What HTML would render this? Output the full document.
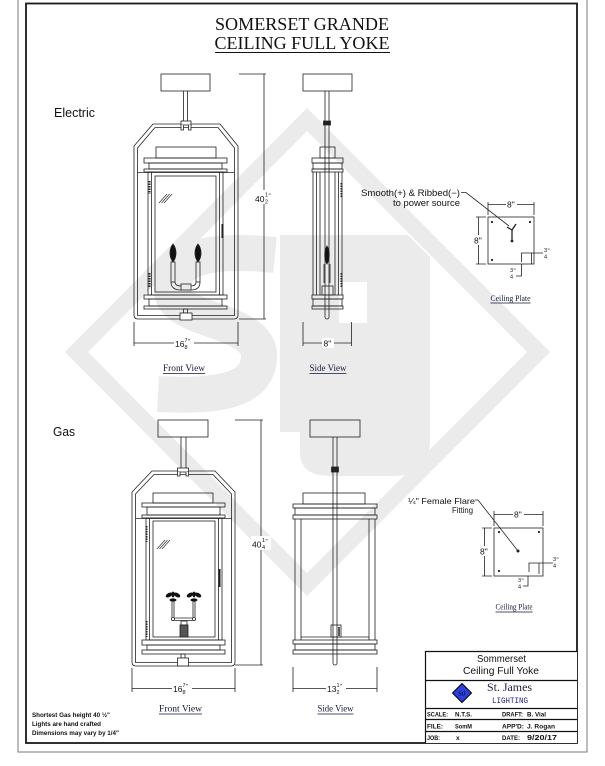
<!DOCTYPE html>
<html><head><meta charset="utf-8">
<style>
html,body{margin:0;padding:0;background:#fff;width:605px;height:766px;overflow:hidden}
svg{display:block}
</style></head><body>
<svg xmlns="http://www.w3.org/2000/svg" width="605" height="766" viewBox="0 0 605 766" font-family="'Liberation Sans', Arial, sans-serif">
<rect width="605" height="766" fill="#fff"/>

<!-- watermark -->
<g fill="#ebebeb" stroke="none">
 <path fill-rule="evenodd" d="M65,352 L307,108 L550,352 L307,596 Z M88,352 L307,131 L527,352 L307,573 Z"/>
 <path fill-rule="evenodd" d="M280,235 H408 L430,257 V440 Q430,476 392,476 H330 Q300,476 300,452 V432 H280 Z M339,282 H367 V323 H339 Z"/>
</g>
<path d="M275,255 C215,249 172,255 172,290 C172,322 259,318 259,356 C259,392 215,397 158,394" fill="none" stroke="#ebebeb" stroke-width="36"/>

<!-- page frame -->
<path d="M18,0 V752 H587 V0" fill="none" stroke="#7a7a7a" stroke-width="1"/>
<rect x="26" y="3.5" width="551" height="739.5" fill="none" stroke="#1a1a1a" stroke-width="1.8"/>

<!-- title -->
<g font-family="'Liberation Serif','Times New Roman',serif" fill="#111" font-size="18" text-anchor="middle">
 <text x="302" y="30" textLength="174" lengthAdjust="spacingAndGlyphs">SOMERSET GRANDE</text>
 <text x="302" y="49" textLength="175" lengthAdjust="spacingAndGlyphs">CEILING FULL YOKE</text>
</g>
<line x1="215" y1="52.5" x2="390" y2="52.5" stroke="#111" stroke-width="1"/>

<text x="54" y="117" font-size="13" fill="#111" textLength="41" lengthAdjust="spacingAndGlyphs">Electric</text>
<text x="53" y="436" font-size="13" fill="#111" textLength="22" lengthAdjust="spacingAndGlyphs">Gas</text>

<g fill="none" stroke="#222" stroke-width="0.8">
 <!-- ============ ELECTRIC FRONT ============ -->
 <rect x="161" y="74" width="49" height="17"/>
 <path d="M183.5,91 V122 M187.5,91 V122"/>
 <path d="M153,124 H220 L238,146 V315 Q238,319 234,319 H138 Q134,319 134,315 V146 Z"/>
 <path d="M155,127.5 H218 L234.5,148 V315.5 H137.5 V148 Z"/>
 <rect x="181" y="121" width="10" height="4" fill="#fff"/>
 <path d="M181,125 v5 h2.5 v-5 M188.5,125 v5 h2.5 v-5" fill="#fff"/>
 <rect x="156" y="147" width="60" height="11"/>
 <rect x="144" y="158" width="83" height="5"/>
 <rect x="149" y="163" width="73" height="6"/>
 <rect x="144" y="169" width="83" height="3"/>
 <line x1="137.5" y1="172.5" x2="234.5" y2="172.5"/>
 <rect x="148" y="172" width="75" height="123"/>
 <path d="M151.5,172 V295 M219.5,172 V295"/>
 <rect x="155" y="176" width="61" height="116"/>
 <path d="M159,203 L167,194 M161.5,203 L169.5,194 M164,203 L172,194" stroke-width="0.6"/>
 <path d="M149.5,181 V194 M149.5,273 V287" stroke-width="2" stroke-dasharray="1.5,1"/>
 <path d="M222.5,224 V238" stroke-width="2"/>
 <path d="M173,244 C177,249 177,257 173,262 C169,257 169,249 173,244Z" fill="#111"/>
 <rect x="171" y="262" width="4" height="20"/>
 <path d="M198,244 C202,249 202,257 198,262 C194,257 194,249 198,244Z" fill="#111"/>
 <rect x="196" y="262" width="4" height="20"/>
 <path d="M171,282 Q171,290 181,290 M175,282 Q175,286 181,286 M200,282 Q200,290 191,290 M196,282 Q196,286 191,286"/>
 <rect x="181" y="284" width="10" height="6"/>
 <rect x="144" y="295" width="83" height="4"/>
 <rect x="149" y="299" width="73" height="7"/>
 <rect x="144" y="306" width="83" height="3"/>
 <rect x="183.5" y="309" width="4" height="4"/>
 <rect x="180" y="313" width="12" height="7" fill="#fff"/>
 <path d="M239,74 H266 M264,74 V319 M239,319 H266"/>
 <path d="M134,322 V346 M238,322 V346 M134,343 H238"/>

 <!-- ============ ELECTRIC SIDE ============ -->
 <rect x="303" y="74" width="49" height="17"/>
 <path d="M325,91 V317 A2,2 0 0 0 329,317 V91"/>
 <rect x="323.5" y="121" width="7" height="4" fill="#222"/>
 <rect x="320" y="147" width="15" height="11"/>
 <rect x="312" y="158" width="31" height="5"/>
 <rect x="313" y="163" width="29" height="6"/>
 <rect x="312" y="169" width="31" height="3"/>
 <path d="M313,172 V295 M316.5,172 V295 M320,172 V295 M335,172 V295 M338.5,172 V295 M342,172 V295"/>
 <path d="M341.5,183 V197 M341.5,273 V287" stroke-width="2" stroke-dasharray="1.5,1"/>
 <path d="M327,246 C330,251 330,259 327,264 C324,259 324,251 327,246Z" fill="#111"/>
 <path d="M324,264 V283 M330,264 V283"/>
 <rect x="322" y="286" width="11" height="9"/>
 <rect x="312" y="295" width="31" height="4"/>
 <rect x="313" y="299" width="29" height="7"/>
 <rect x="312" y="306" width="31" height="3"/>
 <path d="M303,322 V346 M351.5,322 V346 M303,343 H351.5"/>

 <!-- ============ ELECTRIC CEILING PLATE ============ -->
 <rect x="488" y="217" width="46" height="47"/>
 <path d="M461,192.5 H466 L509,226"/>
 <path d="M512,230 V241 M512,230 L507,227 M512,230 L516,224" stroke-width="1.3"/>
 <path d="M488,202 V215 M534,202 V215 M488,204.5 H534"/>
 <path d="M476,217 H486 M476,264 H486 M478.5,217 V264"/>
 <path d="M521.5,262 V253 H543 M531.5,253 V264 M521.5,264 V276 H516"/>

 <!-- ============ GAS FRONT ============ -->
 <rect x="158" y="420" width="50" height="17"/>
 <path d="M181,437 V469 M186,437 V469"/>
 <path d="M152,471 H215 L235,492 V662 Q235,666 231,666 H136 Q132,666 132,662 V492 Z"/>
 <path d="M154,474.5 H213 L231.5,494 V662.5 H135.5 V494 Z"/>
 <rect x="177.5" y="468" width="11" height="4" fill="#fff"/>
 <path d="M177.5,472 v4 h2.5 v-4 M186,472 v4 h2.5 v-4" fill="#fff"/>
 <rect x="153" y="493" width="60" height="10"/>
 <rect x="142" y="503" width="83" height="4"/>
 <rect x="147" y="507" width="73" height="8"/>
 <rect x="142" y="515" width="83" height="3"/>
 <line x1="135.5" y1="518.5" x2="231.5" y2="518.5"/>
 <rect x="146" y="518" width="76" height="122"/>
 <path d="M149.5,518 V640 M218.5,518 V640"/>
 <rect x="153" y="521" width="62" height="116"/>
 <path d="M157,549 L165,540 M159.5,549 L167.5,540 M162,549 L170,540" stroke-width="0.6"/>
 <path d="M146.5,526 V542 M146.5,621 V637" stroke-width="2" stroke-dasharray="1.5,1"/>
 <path d="M219.5,569 V587" stroke-width="2"/>
 <g fill="#111" stroke="none">
  <ellipse cx="169" cy="595" rx="3.6" ry="2" transform="rotate(-30 169 595)"/>
  <ellipse cx="177" cy="595" rx="3.6" ry="2" transform="rotate(30 177 595)"/>
  <ellipse cx="173" cy="594.5" rx="1.5" ry="3"/>
  <ellipse cx="173" cy="600" rx="3.5" ry="1.6"/>
  <ellipse cx="190" cy="595" rx="3.6" ry="2" transform="rotate(-30 190 595)"/>
  <ellipse cx="198" cy="595" rx="3.6" ry="2" transform="rotate(30 198 595)"/>
  <ellipse cx="194" cy="594.5" rx="1.5" ry="3"/>
  <ellipse cx="194" cy="600" rx="3.5" ry="1.6"/>
 </g>
 <path d="M172,601 V617 M174,601 V617 M193,601 V617 M195,601 V617"/>
 <circle cx="173" cy="619" r="1.6"/>
 <circle cx="194" cy="619" r="1.6"/>
 <path d="M174.6,618 H192.4 M174.6,620.5 H192.4"/>
 <rect x="181" y="621" width="6" height="4"/>
 <rect x="180" y="625" width="8" height="12" fill="#555"/>
 <rect x="142" y="640" width="83" height="5"/>
 <rect x="147" y="645" width="73" height="5"/>
 <rect x="142" y="650" width="83" height="4"/>
 <rect x="181" y="654" width="4" height="4"/>
 <rect x="177.5" y="658" width="11" height="8" fill="#fff"/>
 <path d="M235,420 H263 M261,420 V665 M235,665 H263"/>
 <path d="M132,668 V692 M235,668 V692 M132,688.5 H235"/>

 <!-- ============ GAS SIDE ============ -->
 <rect x="310" y="420" width="50" height="17"/>
 <path d="M333,437 V663 A2,2 0 0 0 337,663 V437"/>
 <rect x="331.5" y="467" width="7" height="5" fill="#222"/>
 <rect x="303" y="493" width="62" height="11"/>
 <rect x="293" y="504" width="84" height="4"/>
 <rect x="295" y="508" width="80" height="7"/>
 <rect x="293" y="515" width="84" height="4"/>
 <path d="M295,519 V640 M375,519 V640 M301,519 V640 M369,519 V640 M301,637 H369"/>
 <rect x="331" y="625" width="10" height="12"/>
 <path d="M339,627 V636" stroke-width="1.5"/>
 <rect x="293" y="640" width="84" height="4"/>
 <rect x="295" y="644" width="80" height="6"/>
 <rect x="293" y="650" width="84" height="4"/>
 <path d="M293,667 V692 M377,667 V692 M293,688.5 H377"/>

 <!-- ============ GAS CEILING PLATE ============ -->
 <rect x="494" y="528" width="49" height="48"/>
 <path d="M475,500 H478 L518,551"/>
 <path d="M494,511 V526 M543,511 V526 M494,514.5 H543"/>
 <path d="M482,528 H492 M482,576 H492 M484.5,528 V576"/>
 <path d="M529,572 V563 H553 M539,563 V574 M528,576 V586 H523"/>
</g>

<!-- dots -->
<g fill="#222">
 <circle cx="492" cy="222" r="1.1"/><circle cx="530" cy="222" r="1.1"/><circle cx="492" cy="260" r="1.1"/>
 <circle cx="512" cy="241" r="1.4"/>
 <circle cx="499" cy="532" r="1.1"/><circle cx="539" cy="532" r="1.1"/><circle cx="499" cy="571" r="1.1"/>
 <circle cx="518" cy="551" r="1.5"/>
</g>

<!-- dimension labels -->
<g fill="#fff">
 <rect x="254" y="190" width="19" height="14"/>
 <rect x="174" y="336" width="20" height="14"/>
 <rect x="322" y="338" width="12" height="10"/>
 <rect x="251" y="536" width="20" height="14"/>
 <rect x="172" y="681" width="20" height="14"/>
 <rect x="326" y="681" width="20" height="14"/>
 <rect x="506" y="199" width="11" height="10"/>
 <rect x="473" y="235" width="10" height="10"/>
 <rect x="513" y="509" width="11" height="10"/>
 <rect x="479" y="546" width="10" height="10"/>
</g>
<g fill="#111" font-size="8.5">
 <text x="255" y="202">40</text><text x="265" y="196.5" font-size="5.5">1</text><text x="265" y="203.5" font-size="5.5">2</text><text x="268.5" y="198" font-size="6">"</text>
 <text x="175" y="347">16</text><text x="184.5" y="342" font-size="5.5">7</text><text x="184.5" y="349" font-size="5.5">8</text><text x="188" y="343.5" font-size="6">"</text>
 <text x="323.5" y="346.5">8"</text>
 <text x="252" y="547.5">40</text><text x="262" y="542" font-size="5.5">1</text><text x="262" y="549" font-size="5.5">4</text><text x="265.5" y="543.5" font-size="6">"</text>
 <text x="173" y="692">16</text><text x="182.5" y="687" font-size="5.5">7</text><text x="182.5" y="694" font-size="5.5">8</text><text x="186" y="688.5" font-size="6">"</text>
 <text x="327" y="692">13</text><text x="336.5" y="687" font-size="5.5">1</text><text x="336.5" y="694" font-size="5.5">2</text><text x="340" y="688.5" font-size="6">"</text>
 <text x="507" y="207.5">8"</text>
 <text x="474" y="243.5">8"</text>
 <text x="514" y="517.5">8"</text>
 <text x="480" y="554.5">8"</text>
 <text x="544" y="252" font-size="5.5">3</text><text x="544" y="258.5" font-size="5.5">4</text><text x="547.5" y="253" font-size="6">"</text>
 <text x="510" y="272" font-size="5.5">3</text><text x="510" y="278.5" font-size="5.5">4</text><text x="513.5" y="273" font-size="6">"</text>
 <text x="553" y="561" font-size="5.5">3</text><text x="553" y="567.5" font-size="5.5">4</text><text x="556.5" y="562" font-size="6">"</text>
 <text x="518" y="582" font-size="5.5">3</text><text x="518" y="588.5" font-size="5.5">4</text><text x="521.5" y="583" font-size="6">"</text>
</g>

<!-- callouts -->
<g fill="#111" font-size="9" text-anchor="end">
 <text x="460" y="196" textLength="99" lengthAdjust="spacingAndGlyphs">Smooth(+) &amp; Ribbed(−)</text>
 <text x="460" y="206" textLength="67" lengthAdjust="spacingAndGlyphs">to power source</text>
 <text x="475" y="504" textLength="67" lengthAdjust="spacingAndGlyphs" font-size="8.5">¼" Female Flare</text>
 <text x="473" y="513" textLength="21" lengthAdjust="spacingAndGlyphs" font-size="8.5">Fitting</text>
</g>

<!-- view labels -->
<g font-family="'Liberation Serif','Times New Roman',serif" font-size="9.5" fill="#14183a" text-anchor="middle">
 <text x="184" y="371" textLength="42" lengthAdjust="spacingAndGlyphs">Front View</text>
 <text x="328" y="371" textLength="37" lengthAdjust="spacingAndGlyphs">Side View</text>
 <text x="510.5" y="301" textLength="40" lengthAdjust="spacingAndGlyphs" font-size="8.5">Ceiling Plate</text>
 <text x="180.5" y="711.5" textLength="43" lengthAdjust="spacingAndGlyphs">Front View</text>
 <text x="335.5" y="711.5" textLength="36" lengthAdjust="spacingAndGlyphs">Side View</text>
 <text x="514" y="609.5" textLength="37" lengthAdjust="spacingAndGlyphs" font-size="8.5">Ceiling Plate</text>
</g>
<path d="M163,373.5 H205 M309.5,373.5 H346.5 M490.5,303 H530.5 M159,714 H202 M317.5,714 H353.5 M495.5,612 H532.5" stroke="#14183a" stroke-width="0.8" fill="none"/>

<!-- notes -->
<g font-size="6.3" font-weight="bold" fill="#111">
 <text x="32" y="717" textLength="78" lengthAdjust="spacingAndGlyphs">Shortest Gas height 40 ½"</text>
 <text x="32" y="726" textLength="69" lengthAdjust="spacingAndGlyphs">Lights are hand crafted</text>
 <text x="32" y="735" textLength="87" lengthAdjust="spacingAndGlyphs">Dimensions may vary by 1/4"</text>
</g>

<!-- title block -->
<rect x="425.5" y="651.5" width="151.5" height="91.5" fill="#fff" stroke="none"/>
<path d="M425.5,743 V651.5 H577 M425.5,680.5 H577 M425.5,708.5 H577 M425.5,719.5 H577 M425.5,731.5 H577" fill="none" stroke="#111" stroke-width="1.2"/>
<g font-size="10" fill="#111" text-anchor="middle">
 <text x="501.5" y="662" textLength="49" lengthAdjust="spacingAndGlyphs">Sommerset</text>
 <text x="501" y="674" textLength="76" lengthAdjust="spacingAndGlyphs">Ceiling Full Yoke</text>
</g>
<polygon points="462,683.5 471.5,693 462,702.5 452.5,693" fill="#2b3fe0" stroke="#000" stroke-width="1"/>
<text x="462" y="695.5" font-size="6" text-anchor="middle" fill="#000" font-family="'Liberation Serif',serif">StJ</text>
<text x="487" y="691" font-family="'Liberation Serif','Times New Roman',serif" font-size="11.5" fill="#1a2040" textLength="45" lengthAdjust="spacingAndGlyphs">St. James</text>
<text x="492" y="703" font-family="'Liberation Mono',monospace" font-size="8" fill="#1c1c8c" textLength="36" lengthAdjust="spacingAndGlyphs">LIGHTING</text>
<g font-size="6.5" font-weight="bold" fill="#111">
 <text x="427" y="716.5" textLength="21" lengthAdjust="spacingAndGlyphs">SCALE:</text>
 <text x="455" y="716.5" textLength="17" lengthAdjust="spacingAndGlyphs">N.T.S.</text>
 <text x="502" y="716.5" textLength="21" lengthAdjust="spacingAndGlyphs">DRAFT:</text>
 <text x="527" y="716.5" textLength="19" lengthAdjust="spacingAndGlyphs">B. Vial</text>
 <text x="427" y="728.5" textLength="16" lengthAdjust="spacingAndGlyphs">FILE:</text>
 <text x="455" y="728.5" textLength="17" lengthAdjust="spacingAndGlyphs">SomM</text>
 <text x="502" y="728.5" textLength="22" lengthAdjust="spacingAndGlyphs">APP'D:</text>
 <text x="527" y="728.5" textLength="28" lengthAdjust="spacingAndGlyphs">J. Rogan</text>
 <text x="427" y="740" textLength="13" lengthAdjust="spacingAndGlyphs">JOB:</text>
 <text x="456" y="740">x</text>
 <text x="502" y="740" textLength="18" lengthAdjust="spacingAndGlyphs">DATE:</text>
 <text x="527" y="740" textLength="30" lengthAdjust="spacingAndGlyphs" font-size="7.5">9/20/17</text>
</g>
</svg>
</body></html>
